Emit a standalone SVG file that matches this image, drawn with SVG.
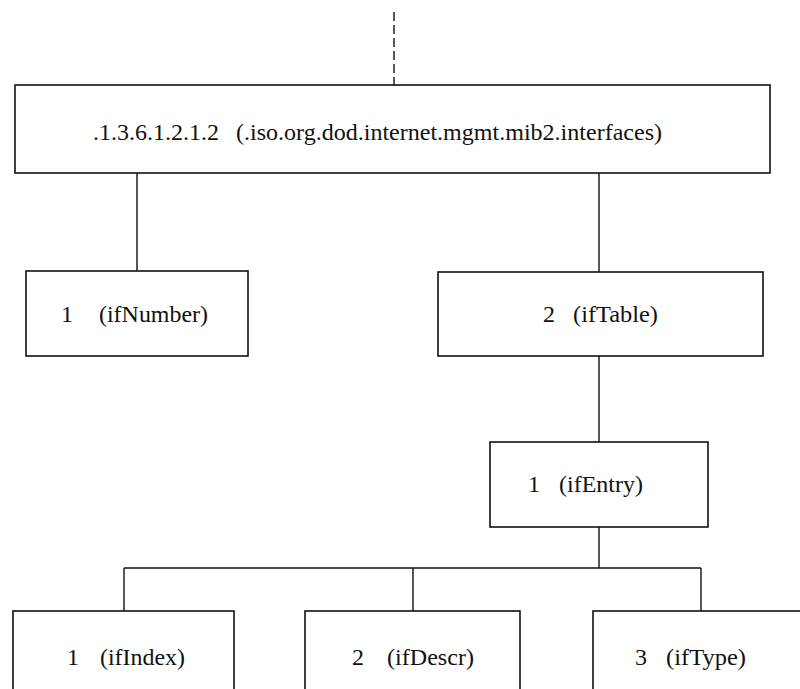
<svg xmlns="http://www.w3.org/2000/svg" width="800" height="689" viewBox="0 0 800 689">
<style>
.box{fill:#fff;stroke:#111;stroke-width:1.6}
.ln{stroke:#111;stroke-width:1.4;fill:none}
.dash{stroke:#111;stroke-width:1.4;stroke-dasharray:9 4;fill:none}
text{font-family:"Liberation Serif","Times New Roman","Nimbus Roman","DejaVu Serif",serif;font-size:24px;fill:#111}
</style>
<rect width="800" height="689" fill="#fff"/>
<g id="connectors">
<line class="dash" x1="394" y1="12" x2="394" y2="85"/>
<line class="ln" x1="137" y1="173" x2="137" y2="271"/>
<line class="ln" x1="599" y1="173" x2="599" y2="272"/>
<line class="ln" x1="599" y1="356" x2="599" y2="442"/>
<line class="ln" x1="599" y1="527" x2="599" y2="568"/>
<line class="ln" x1="124" y1="568" x2="701" y2="568"/>
<line class="ln" x1="124" y1="568" x2="124" y2="611"/>
<line class="ln" x1="413" y1="568" x2="413" y2="611"/>
<line class="ln" x1="701" y1="568" x2="701" y2="611"/>
</g>
<g id="interfaces">
<rect class="box" x="15" y="85" width="755" height="88"/>
<text x="93" y="140" font-family="Liberation Serif, serif" textLength="126" lengthAdjust="spacingAndGlyphs">.1.3.6.1.2.1.2</text>
<text x="236" y="140" font-family="Liberation Serif, serif" textLength="426" lengthAdjust="spacingAndGlyphs">(.iso.org.dod.internet.mgmt.mib2.interfaces)</text>
</g>
<g id="ifNumber">
<rect class="box" x="26" y="271" width="222" height="85"/>
<text x="61" y="322" font-family="Liberation Serif, serif">1</text>
<text x="99" y="322" font-family="Liberation Serif, serif" textLength="109" lengthAdjust="spacingAndGlyphs">(ifNumber)</text>
</g>
<g id="ifTable">
<rect class="box" x="438" y="272" width="325" height="84"/>
<text x="543" y="322" font-family="Liberation Serif, serif">2</text>
<text x="573" y="322" font-family="Liberation Serif, serif" textLength="85" lengthAdjust="spacingAndGlyphs">(ifTable)</text>
</g>
<g id="ifEntry">
<rect class="box" x="490" y="442" width="218" height="85"/>
<text x="528" y="492" font-family="Liberation Serif, serif">1</text>
<text x="559" y="492" font-family="Liberation Serif, serif" textLength="84" lengthAdjust="spacingAndGlyphs">(ifEntry)</text>
</g>
<g id="ifIndex">
<rect class="box" x="13" y="611" width="221" height="100"/>
<text x="67" y="665" font-family="Liberation Serif, serif">1</text>
<text x="100" y="665" font-family="Liberation Serif, serif" textLength="85" lengthAdjust="spacingAndGlyphs">(ifIndex)</text>
</g>
<g id="ifDescr">
<rect class="box" x="305" y="611" width="215" height="100"/>
<text x="352" y="665" font-family="Liberation Serif, serif">2</text>
<text x="387" y="665" font-family="Liberation Serif, serif" textLength="87" lengthAdjust="spacingAndGlyphs">(ifDescr)</text>
</g>
<g id="ifType">
<rect class="box" x="593" y="611" width="220" height="100"/>
<text x="635" y="665" font-family="Liberation Serif, serif">3</text>
<text x="666" y="665" font-family="Liberation Serif, serif" textLength="80" lengthAdjust="spacingAndGlyphs">(ifType)</text>
</g>
</svg>
